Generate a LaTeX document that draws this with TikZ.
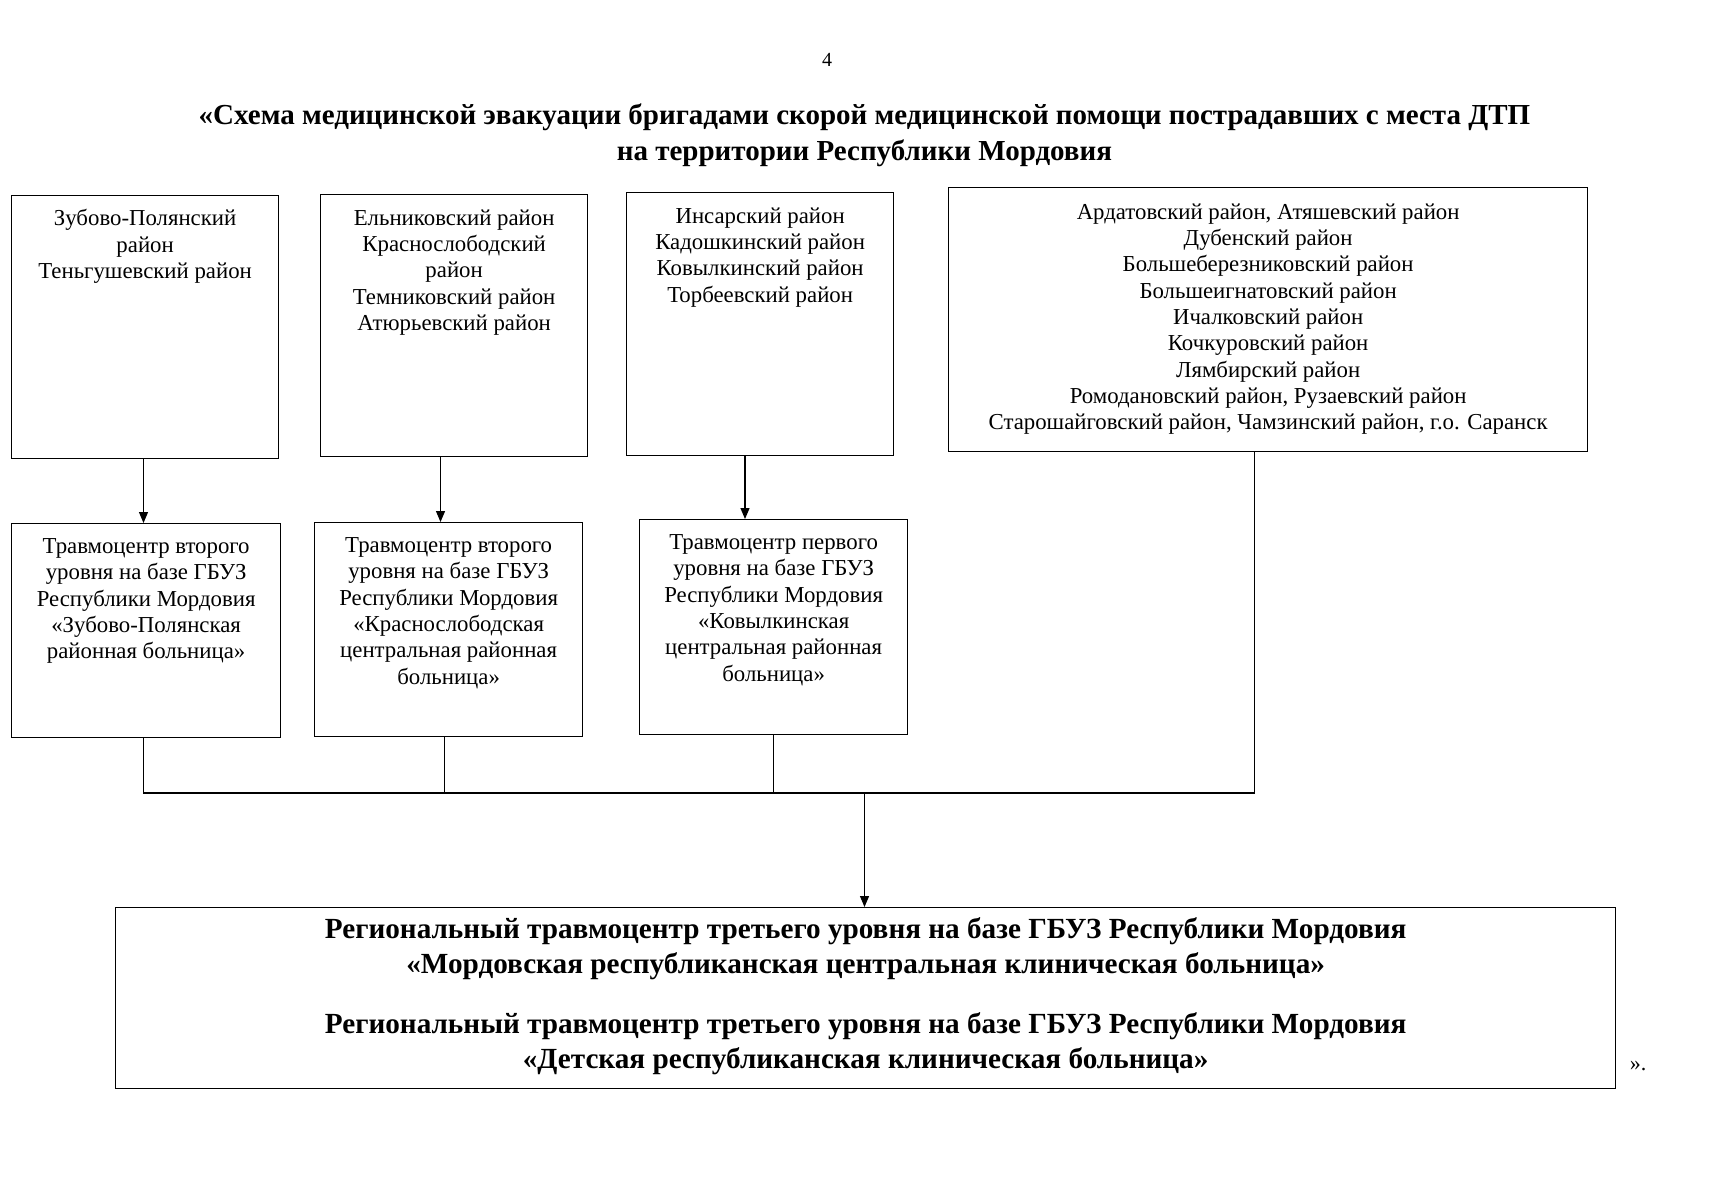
\documentclass[tikz,border=0pt]{standalone}
\usepackage{fontspec}
\setmainfont{Liberation Serif}
\usetikzlibrary{arrows.meta}
\newcommand\btext[4]{\parbox[c][#2][t]{#1}{\centering\fontsize{22.8}{26.3}\selectfont\vspace*{#3}#4\par}}
\begin{document}
\begin{tikzpicture}[x=1pt,y=-1pt,
  box/.style={draw,line width=1.3pt,inner sep=0pt,anchor=north west},
  conn/.style={line width=1.2pt},
  arr/.style={line width=1.2pt,-{Triangle[length=11pt,width=9pt]}},
  lbl/.style={inner sep=0pt,align=center}]
\useasboundingbox (0,0) rectangle (1718,1200);
\node[lbl,font=\fontsize{20}{24}\selectfont] (pg) at (827,60) {4};
\node[lbl,font=\fontsize{29}{36}\selectfont\bfseries] (title) at (864.5,135)
  {«Схема медицинской эвакуации бригадами скорой медицинской помощи пострадавших с места ДТП\\на территории Республики Мордовия};
\node[box] (b1) at (11,195) {\btext{267pt}{263pt}{14pt}{Зубово-Полянский\\район\\Теньгушевский район}};
\node[box] (b2) at (320,194) {\btext{267pt}{262pt}{15pt}{Ельниковский район\\Краснослободский\\район\\Темниковский район\\Атюрьевский район}};
\node[box] (b3) at (626,192) {\btext{267pt}{263pt}{15pt}{Инсарский район\\Кадошкинский район\\Ковылкинский район\\Торбеевский район}};
\node[box] (b4) at (948,187) {\btext{639pt}{264pt}{16pt}{Ардатовский район, Атяшевский район\\Дубенский район\\Большеберезниковский район\\Большеигнатовский район\\Ичалковский район\\Кочкуровский район\\Лямбирский район\\Ромодановский район, Рузаевский район\\Старошайговский район, Чамзинский район, г.о. Саранск}};
\node[box] (b5) at (11,523) {\btext{269pt}{214pt}{15pt}{Травмоцентр второго\\уровня на базе ГБУЗ\\Республики Мордовия\\«Зубово-Полянская\\районная больница»}};
\node[box] (b6) at (314,522) {\btext{268pt}{214pt}{15pt}{Травмоцентр второго\\уровня на базе ГБУЗ\\Республики Мордовия\\«Краснослободская\\центральная районная\\больница»}};
\node[box] (b7) at (639,519) {\btext{268pt}{215pt}{15pt}{Травмоцентр первого\\уровня на базе ГБУЗ\\Республики Мордовия\\«Ковылкинская\\центральная районная\\больница»}};
\node[box] (big) at (115,907) {\parbox[c][181pt][t]{1500pt}{\centering\fontsize{29.2}{35}\selectfont\bfseries\vspace*{9.5pt}Региональный травмоцентр третьего уровня на базе ГБУЗ Республики Мордовия\\«Мордовская республиканская центральная клиническая больница»\\[25pt]Региональный травмоцентр третьего уровня на базе ГБУЗ Республики Мордовия\\«Детская республиканская клиническая больница»\par}};
\node[lbl,font=\fontsize{22}{26}\selectfont] (q) at (1638,1066) {».};
\coordinate (c1) at (143.5,0);
\coordinate (c2) at (440.5,0);
\coordinate (c3) at (745,0);
\coordinate (busL) at (143.5,793);
\coordinate (busR) at (1254.6,793);
\coordinate (busM) at (864.5,793);
\draw[arr] (c1 |- b1.south) -- (c1 |- b5.north);
\draw[arr] (c2 |- b2.south) -- (c2 |- b6.north);
\draw[arr] (c3 |- b3.south) -- (c3 |- b7.north);
\draw[conn] (b5.south -| busL) -- (busL) -- (busR) -- (busR |- b4.south);
\draw[conn] ([xshift=-4pt]b6.south) -- ([xshift=-4pt]b6.south |- busL);
\draw[conn] (b7.south) -- (b7.south |- busL);
\draw[arr] (busM) -- (busM |- big.north);
\end{tikzpicture}
\end{document}
